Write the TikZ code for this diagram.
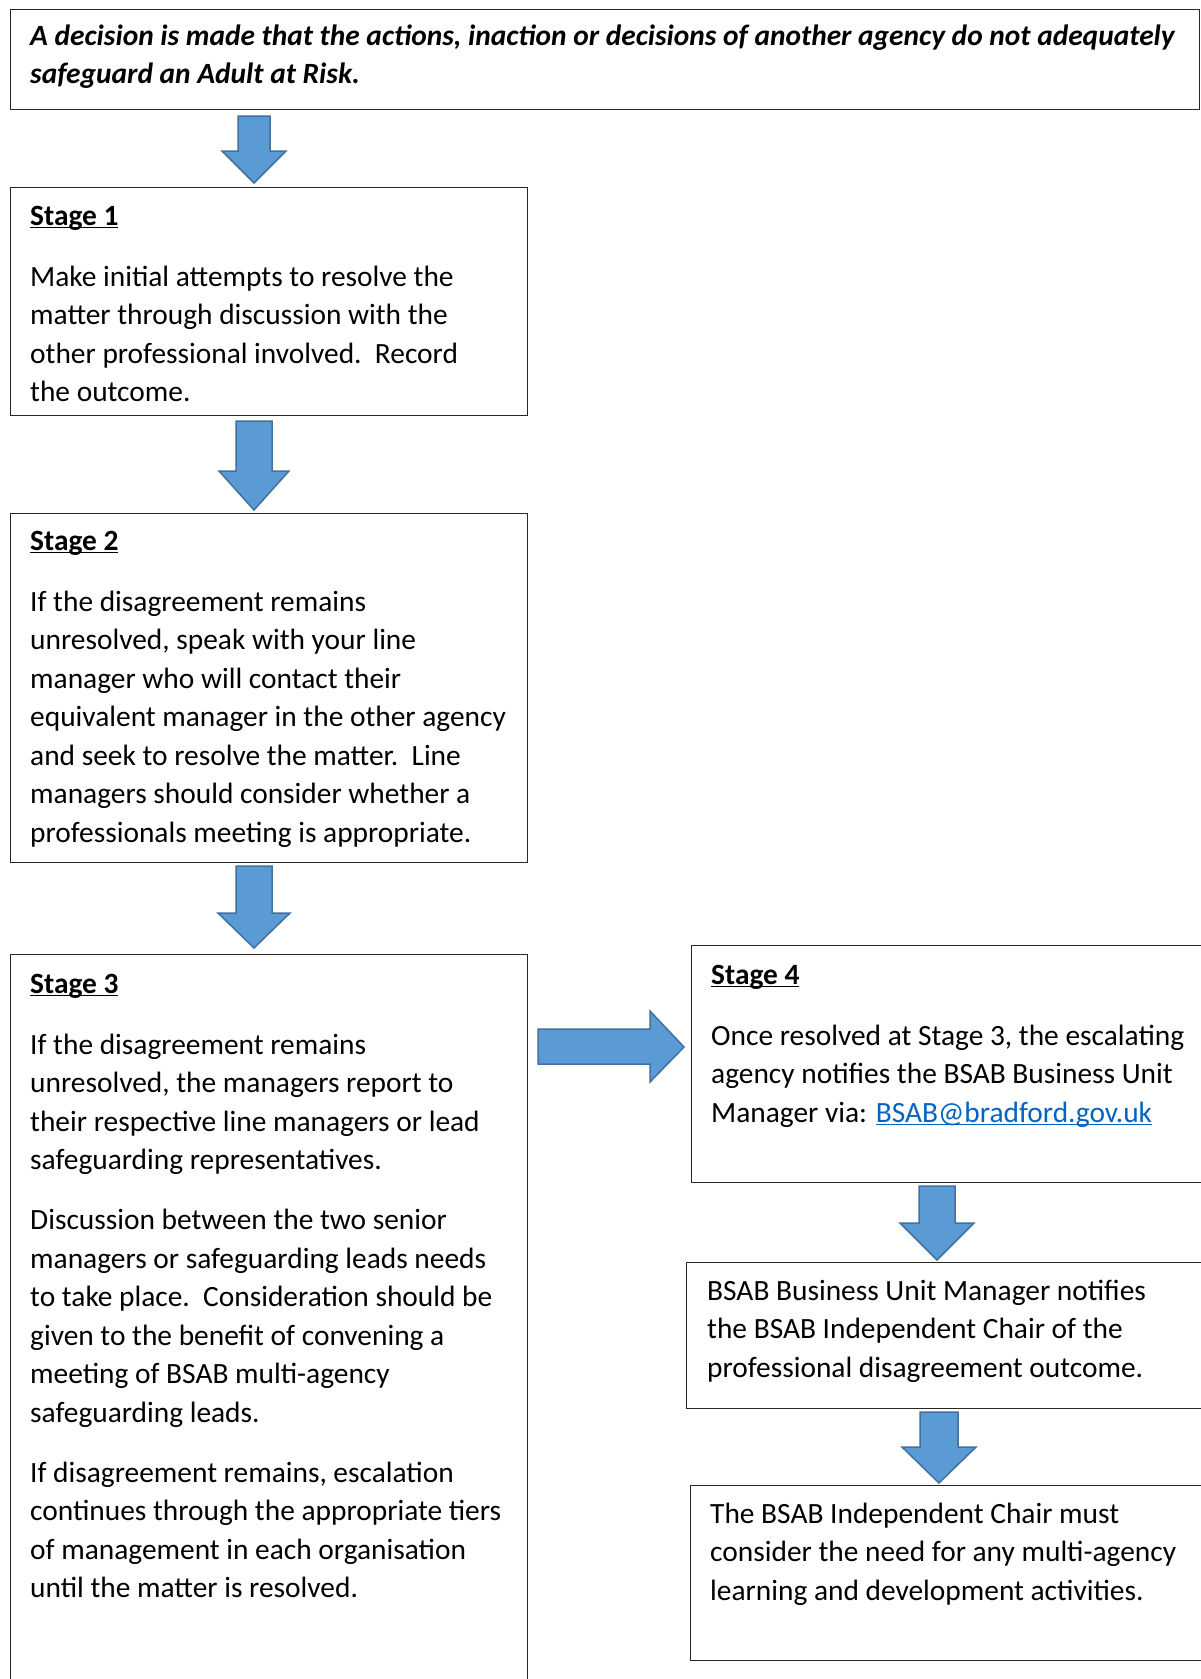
\documentclass[tikz,border=0pt]{standalone}
\usepackage{fontspec}
\setmainfont{Carlito}
\definecolor{arrfill}{HTML}{5B9BD5}
\definecolor{arrline}{HTML}{41719C}
\definecolor{linkblue}{HTML}{0563C1}
\newcommand\stagehd[1]{\setbox0\hbox{\bfseries #1}\rlap{\rule[-3.2pt]{\wd0}{1.8pt}}\box0}
\newcommand\mylink[1]{\setbox0\hbox{\color{linkblue}#1}\rlap{\color{linkblue}\rule[-3.2pt]{\wd0}{1.6pt}}\box0}
\newcommand\st{\rule{0pt}{28pt}}
\newcommand\downarr[6]{%
  \draw[blockarrow] ({#1-#2},{#4}) -- ({#1+#2},{#4}) -- ({#1+#2},{#5}) -- ({#1+#3},{#5})
   -- ({#1},{#6}) -- ({#1-#3},{#5}) -- ({#1-#2},{#5}) -- cycle;}
\begin{document}
\begin{tikzpicture}[x=1pt,y=-1pt,
  box/.style={draw=black!85, line width=1.3pt, inner sep=0pt, anchor=north west},
  txt/.style={anchor=north west, inner sep=0pt, align=left, font=\fontsize{29.4}{38.5}\selectfont},
  blockarrow/.style={fill=arrfill, draw=arrline, line width=1.5pt, line join=miter}]
\useasboundingbox[fill=white] (0,0) rectangle (1200,1679);
% boxes
\node[box, minimum width=1189pt, minimum height=100pt] (top) at (10,9) {};
\node[box, minimum width=517pt, minimum height=228pt] (s1) at (10,187) {};
\node[box, minimum width=517pt, minimum height=349pt] (s2) at (10,513) {};
\node[box, minimum width=517pt, minimum height=760pt] (s3) at (10,954) {};
\node[box, minimum width=530pt, minimum height=237pt] (s4) at (691,945) {};
\node[box, minimum width=530pt, minimum height=146pt] (s5) at (686,1262) {};
\node[box, minimum width=530pt, minimum height=175pt] (s6) at (690,1485) {};
% arrows
\downarr{254}{16}{32}{116}{151}{183}
\downarr{254}{18}{35}{421}{471}{510}
\downarr{254}{18}{36}{866}{913}{948}
\downarr{937}{18}{37}{1186}{1223}{1260}
\downarr{939}{19}{37}{1412}{1447}{1483}
\draw[blockarrow] (538,1029) -- (650,1029) -- (650,1011) -- (684,1047) -- (650,1082) -- (650,1064) -- (538,1064) -- cycle;
% texts
\node[txt] (t0) at (30,{45-28}) {\st\textbf{\textit{A decision is made that the actions, inaction or decisions of another agency do not adequately}}\\\textbf{\textit{safeguard an Adult at Risk.}}};
\node[txt] (h1) at (30,{225-28}) {\st\stagehd{Stage 1}};
\node[txt] (b1) at (30,{286-28}) {\st Make initial attempts to resolve the\\matter through discussion with the\\other professional involved.\ \ Record\\the outcome.};
\node[txt] (h2) at (30,{550-28}) {\st\stagehd{Stage 2}};
\node[txt] (b2) at (30,{611-28}) {\st If the disagreement remains\\unresolved, speak with your line\\manager who will contact their\\equivalent manager in the other agency\\and seek to resolve the matter.\ \ Line\\managers should consider whether a\\professionals meeting is appropriate.};
\node[txt] (h3) at (30,{993-28}) {\st\stagehd{Stage 3}};
\node[txt] (b3a) at (30,{1054-28}) {\st If the disagreement remains\\unresolved, the managers report to\\their respective line managers or lead\\safeguarding representatives.};
\node[txt] (b3b) at (30,{1229.5-28}) {\st Discussion between the two senior\\managers or safeguarding leads needs\\to take place.\ \ Consideration should be\\given to the benefit of convening a\\meeting of BSAB multi-agency\\safeguarding leads.};
\node[txt] (b3c) at (30,{1482-28}) {\st If disagreement remains, escalation\\continues through the appropriate tiers\\of management in each organisation\\until the matter is resolved.};
\node[txt] (h4) at (711,{984-28}) {\st\stagehd{Stage 4}};
\node[txt] (b4) at (711,{1045-28}) {\st Once resolved at Stage 3, the escalating\\agency notifies the BSAB Business Unit\\Manager via: \mylink{BSAB@bradford.gov.uk}};
\node[txt] (b5) at (707,{1300-28}) {\st BSAB Business Unit Manager notifies\\the BSAB Independent Chair of the\\professional disagreement outcome.};
\node[txt] (b6) at (710,{1523-28}) {\st The BSAB Independent Chair must\\consider the need for any multi-agency\\learning and development activities.};
\end{tikzpicture}
\end{document}
